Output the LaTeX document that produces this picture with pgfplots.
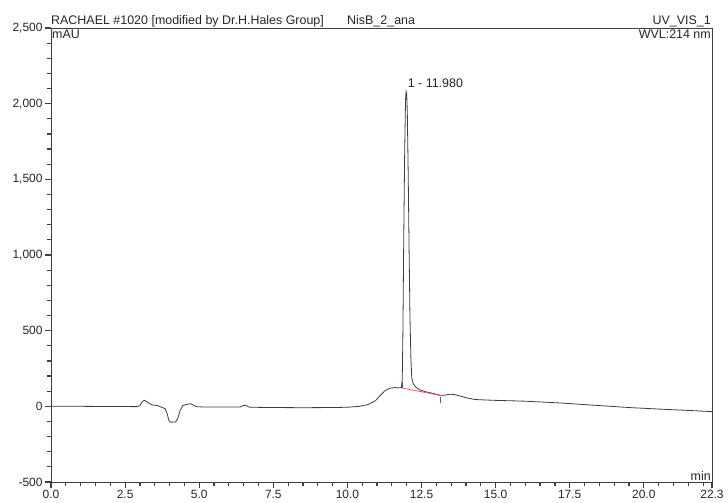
\documentclass[border=0pt]{standalone}
\usepackage{fontspec}
\setmainfont{Liberation Sans}
\usepackage{pgfplots}
\pgfplotsset{compat=1.18}

\definecolor{trace}{HTML}{3C3C3C}
\definecolor{axisgray}{HTML}{404040}
\definecolor{txt}{HTML}{262626}
\definecolor{intbase}{HTML}{F04848}
\definecolor{intmark}{HTML}{4B4BD6}

% UV trace (mAU vs. retention time in min)
\pgfplotstableread{
t v
0.00 0
1.00 0
2.00 -1
2.90 -2
3.00 5
3.08 32
3.15 40
3.25 28
3.40 10
3.60 5
3.75 -8
3.85 -15
3.92 -50
3.98 -95
4.05 -105
4.20 -103
4.28 -80
4.35 -30
4.45 5
4.60 14
4.72 17
4.80 8
4.90 -2
5.10 -4
6.00 -5
6.40 -4
6.50 8
6.60 3
6.70 -6
7.50 -8
8.50 -9
9.50 -8
10.00 -6
10.40 0
10.70 12
10.95 38
11.10 70
11.27 104
11.45 120
11.60 124
11.72 122
11.82 124
11.85 180
11.87 450
11.90 1100
11.93 1650
11.96 2020
11.98 2080
12.00 2065
12.02 1950
12.05 1550
12.08 1050
12.11 600
12.14 330
12.17 190
12.22 150
12.30 128
12.45 108
12.67 95
12.90 85
13.10 74
13.25 73
13.45 80
13.60 78
13.80 68
14.05 55
14.30 45
14.90 40
16.00 34
17.20 22
18.50 5
19.50 -8
20.50 -18
21.50 -27
22.30 -35
}\tracedata

\begin{document}
\begin{tikzpicture}[font=\fontsize{12.5}{14}\selectfont]
\useasboundingbox (-51bp,-21bp) rectangle (677bp,482bp);
\begin{axis}[
  name=main,
  at={(0,0)}, anchor=south west,
  width=661bp, height=454bp, scale only axis,
  xmin=0, xmax=22.3, ymin=-500, ymax=2500,
  axis line style={axisgray, line width=0.8pt},
  xtick pos=left, ytick pos=left,
  tick align=outside,
  major tick length=6bp, minor tick length=4bp,
  tick style={axisgray, line width=1.2pt},
  xtick={0,2.5,5,7.5,10,12.5,15,17.5,20,22.3},
  xticklabels={0.0,2.5,5.0,7.5,10.0,12.5,15.0,17.5,20.0,22.3},
  minor xtick={0.5,1,...,22},
  ytick={-500,0,500,1000,1500,2000,2500},
  minor y tick num=4,
  tick label style={txt, font=\fontsize{12}{14}\selectfont,
    /pgf/number format/assume math mode=true},
  xticklabel style={yshift=1bp},
  yticklabel style={/pgf/number format/1000 sep={,}, xshift=1bp},
]
\addplot[trace, line width=0.8pt] table[x=t, y=v] {\tracedata};
% integration baseline and delimiters of peak 1
\addplot[intbase, line width=0.7pt] coordinates {(11.84,121) (13.15,72)};
\addplot[intmark, line width=0.9pt] coordinates {(11.84,123) (11.84,163)};
\addplot[intmark, line width=0.9pt] coordinates {(13.15,64) (13.15,24)};
\coordinate (pk) at (axis cs:12.03,2110);
\end{axis}

\node[txt, anchor=base west, inner sep=0] at (pk) {1 - 11.980};
\node[txt, anchor=base west, inner sep=0] at ([yshift=3bp]main.north west) {RACHAEL \#1020 [modified by Dr.H.Hales Group]};
\node[txt, anchor=base west, inner sep=0] at ([xshift=296bp, yshift=3bp]main.north west) {NisB\_2\_ana};
\node[txt, anchor=base east, inner sep=0] at ([xshift=-1bp, yshift=3bp]main.north east) {UV\_VIS\_1};
\node[txt, anchor=north west, inner sep=0] at ([xshift=1bp, yshift=-2bp]main.north west) {mAU};
\node[txt, anchor=north east, inner sep=0] at ([xshift=-1bp, yshift=-2bp]main.north east) {WVL:214 nm};
\node[txt, anchor=base east, inner sep=0] at ([xshift=-1bp, yshift=2bp]main.south east) {min};
\end{tikzpicture}
\end{document}
